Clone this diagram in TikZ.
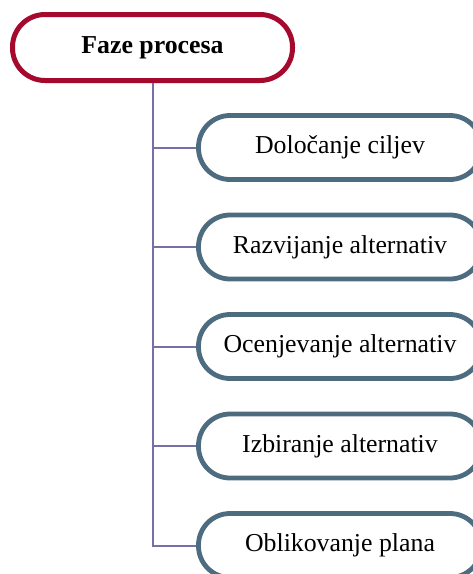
\documentclass[tikz,border=0pt]{standalone}
\usepackage{fontspec}
\setmainfont{Liberation Serif}
\definecolor{topred}{HTML}{A50A2E}
\definecolor{steel}{HTML}{4D6C80}
\definecolor{conncol}{HTML}{7670A8}
\tikzset{
  topbox/.style={draw=topred, line width=5pt, fill=white, rounded corners=32.5pt,
    minimum width=280pt, minimum height=66pt, inner sep=0pt,
    font=\fontsize{25.8}{30}\selectfont\bfseries},
  phasebox/.style={draw=steel, line width=4.8pt, fill=white, rounded corners=31.5pt,
    minimum width=283pt, minimum height=64pt, inner sep=0pt,
    font=\fontsize{25.8}{30}\selectfont},
  conn/.style={draw=conncol, line width=2pt}
}
\begin{document}
\begin{tikzpicture}[x=1pt,y=1pt]
\clip (0,0) rectangle (473,-574);
\useasboundingbox (0,0) rectangle (473,-574);
\node[topbox] (top) at (152.5,-47.5) {Faze procesa};
\node[phasebox] (c1) at (340,-147.5) {Določanje ciljev};
\node[phasebox] (c2) at (340,-247) {Razvijanje alternativ};
\node[phasebox] (c3) at (340,-346.5) {Ocenjevanje alternativ};
\node[phasebox] (c4) at (340,-446) {Izbiranje alternativ};
\node[phasebox] (c5) at (340,-545.5) {Oblikovanje plana};
\draw[conn] (top.south) |- (c5.west);
\draw[conn] (c1.west -| top.south) -- (c1.west);
\draw[conn] (c2.west -| top.south) -- (c2.west);
\draw[conn] (c3.west -| top.south) -- (c3.west);
\draw[conn] (c4.west -| top.south) -- (c4.west);
\end{tikzpicture}
\end{document}
